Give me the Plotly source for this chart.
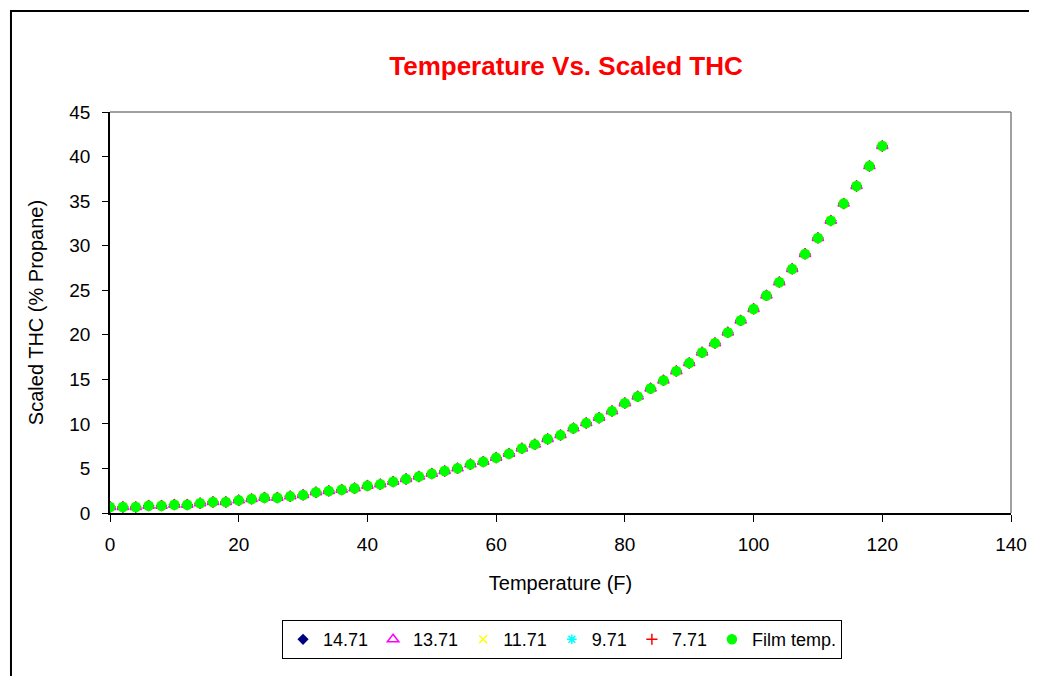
import plotly.graph_objects as go

# Data (temperature in F, scaled THC in % propane)
temperature = list(range(0, 121, 2))
film_temp = [0.67, 0.67, 0.67, 0.82, 0.82, 0.93, 0.93, 1.09, 1.23, 1.23,
             1.42, 1.57, 1.72, 1.72, 1.87, 2.02, 2.32, 2.47, 2.61, 2.77,
             3.06, 3.22, 3.51, 3.81, 4.09, 4.41, 4.71, 5.01, 5.46, 5.75,
             6.20, 6.65, 7.25, 7.70, 8.30, 8.74, 9.50, 10.09, 10.68, 11.43,
             12.33, 13.08, 13.98, 14.88, 15.92, 16.82, 18.02, 19.06, 20.26, 21.60,
             22.90, 24.41, 25.90, 27.39, 29.07, 30.86, 32.81, 34.72, 36.69, 38.93,
             41.18]
# the pressure series sit right under the film temp. points
psi_14_71 = film_temp
psi_13_71 = film_temp
psi_11_71 = film_temp
psi_9_71 = film_temp
psi_7_71 = film_temp

FONT = "Liberation Sans, Arial, sans-serif"

series = [
    ("14.71", psi_14_71, "diamond", "#000080", 7),
    ("13.71", psi_13_71, "triangle-up-open", "#FF00FF", 10),
    ("11.71", psi_11_71, "x-thin-open", "#FFFF00", 8),
    ("9.71", psi_9_71, "asterisk-open", "#00FFFF", 8),
    ("7.71", psi_7_71, "cross-thin-open", "#FF0000", 8),
    ("Film temp.", film_temp, "circle", "#00FF00", 9),
]

fig = go.Figure()
for name, vals, sym, col, size in series:
    fig.add_trace(go.Scatter(
        x=temperature, y=vals, mode="markers", name=name,
        marker=dict(symbol=sym, color=col, size=size,
                    line=dict(color=col, width=1.5)),
    ))

# page has an 8px body margin, so the figure is shifted by 8px;
# right margin leaves room for the "140" label
fig.update_layout(
    width=1029, height=668,
    margin=dict(l=102, r=26, t=104, b=163),
    paper_bgcolor="white", plot_bgcolor="white",
    font=dict(family=FONT, size=19, color="black"),
    title=dict(text="<b>Temperature Vs. Scaled THC</b>", x=0.5423, xanchor="center",
               y=0.9132, yanchor="middle",
               font=dict(family=FONT, size=26, color="#FF0000")),
    showlegend=True,
    legend=dict(orientation="h", x=0.5017, xanchor="center", y=-0.267, yanchor="top",
                bordercolor="black", borderwidth=1, font=dict(size=18),
                itemwidth=30, tracegroupgap=0),
    shapes=[
        # chart frame
        dict(type="rect", xref="paper", yref="paper", x0=-0.1099, x1=1.1, y0=-0.6, y1=1.252,
             line=dict(color="black", width=2), fillcolor="rgba(0,0,0,0)", layer="below"),
        # plot area top / right edges
        dict(type="line", xref="paper", yref="paper", x0=0, x1=1, y0=1, y1=1,
             line=dict(color="#808080", width=1.5)),
        dict(type="line", xref="paper", yref="paper", x0=1, x1=1, y0=0, y1=1,
             line=dict(color="#808080", width=1.5)),
    ],
)

fig.update_xaxes(
    range=[0, 140], tick0=0, dtick=20, showgrid=False, zeroline=False,
    showline=True, linecolor="black", linewidth=1.5, automargin=False,
    ticks="outside", ticklen=7, tickcolor="black", ticklabelstandoff=6,
    ticklabeloverflow="allow",
    title=dict(text="Temperature (F)", font=dict(size=20), standoff=22),
)
fig.update_yaxes(
    range=[0, 45], tick0=0, dtick=5, showgrid=False, zeroline=False,
    showline=True, linecolor="black", linewidth=1.5, automargin=False,
    ticks="outside", ticklen=6, tickcolor="black", ticklabelstandoff=8,
    title=dict(text="Scaled THC (% Propane)", font=dict(size=20), standoff=20),
)

fig.write_html("out.html")
